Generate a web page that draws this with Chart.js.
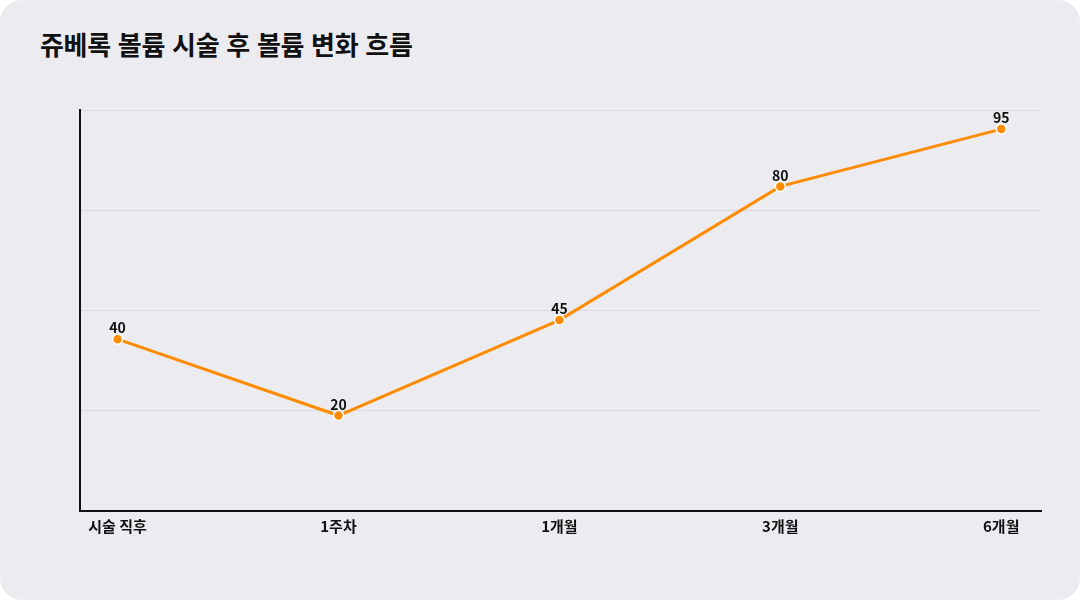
<!DOCTYPE html>
<html lang="ko">
<head>
<meta charset="utf-8">
<script src="https://cdn.jsdelivr.net/npm/chart.js@4.4.1/dist/chart.umd.min.js"></script>
<style>
    html, body { margin: 0; padding: 0; background: #ffffff; }
    #card {
        position: relative;
        width: 1080px;
        height: 600px;
        background: #ecebf0;
        border-radius: 22px;
        overflow: hidden;
    }
    #title {
        position: absolute;
        left: 40px;
        top: 31px;
        margin: 0;
        font-family: "Noto Sans CJK KR", "Noto Sans", sans-serif;
        font-size: 26px;
        line-height: 26px;
        font-weight: 700;
        color: #111111;
        letter-spacing: -0.3px;
    }
    #chart-wrap {
        position: absolute;
        left: 0;
        top: 0;
        width: 1080px;
        height: 600px;
    }
</style>
</head>
<body>
<div id="card">
    <h1 id="title">쥬베록 볼륨 시술 후 볼륨 변화 흐름</h1>
    <div id="chart-wrap"><canvas id="volumeChart"></canvas></div>
</div>
<script>
const stages = ['시술 직후', '1주차', '1개월', '3개월', '6개월'];
const volumeScores = [40, 20, 45, 80, 95];

const lineColor = '#ff8c00';
const fontFamily = '"Noto Sans CJK KR", "Noto Sans", sans-serif';

// value labels above each point
const pointLabels = {
    id: 'pointLabels',
    afterDatasetsDraw(chart) {
        const ctx = chart.ctx;
        const meta = chart.getDatasetMeta(0);
        ctx.save();
        ctx.font = `700 14px ${fontFamily}`;
        ctx.fillStyle = '#111111';
        ctx.textAlign = 'center';
        ctx.textBaseline = 'middle';
        meta.data.forEach((pt, i) => {
            ctx.fillText(String(volumeScores[i]), pt.x, pt.y - 11);
        });
        ctx.restore();
    }
};

const points = volumeScores.map((v, i) => ({ x: i, y: v }));

new Chart(document.getElementById('volumeChart'), {
    type: 'line',
    data: {
        datasets: [{
            data: points,
            borderColor: lineColor,
            borderWidth: 3,
            backgroundColor: lineColor,
            pointBackgroundColor: lineColor,
            pointBorderColor: '#ffffff',
            pointBorderWidth: 1.5,
            pointRadius: 5,
            tension: 0,
            fill: false
        }]
    },
    options: {
        responsive: true,
        maintainAspectRatio: false,
        animation: false,
        layout: { padding: { left: 80, right: 39, top: 110, bottom: 59 } },
        plugins: {
            legend: { display: false },
            tooltip: { enabled: false }
        },
        scales: {
            x: {
                type: 'linear',
                min: -0.17,
                max: 4.18,
                afterBuildTicks: axis => {
                    axis.ticks = stages.map((_, i) => ({ value: i }));
                },
                grid: { display: false, drawTicks: false },
                border: { display: true, color: '#111111', width: 2 },
                ticks: {
                    padding: 6,
                    maxRotation: 0,
                    autoSkip: false,
                    color: '#111111',
                    font: { family: fontFamily, size: 15, weight: '700' },
                    callback: v => stages[v] ?? ''
                }
            },
            y: {
                min: -5,
                max: 100,
                ticks: { display: false, count: 5 },
                grid: { color: '#d9d8de', lineWidth: 1, drawTicks: false },
                border: { display: true, color: '#111111', width: 2 }
            }
        }
    },
    plugins: [pointLabels]
});
</script>
</body>
</html>
